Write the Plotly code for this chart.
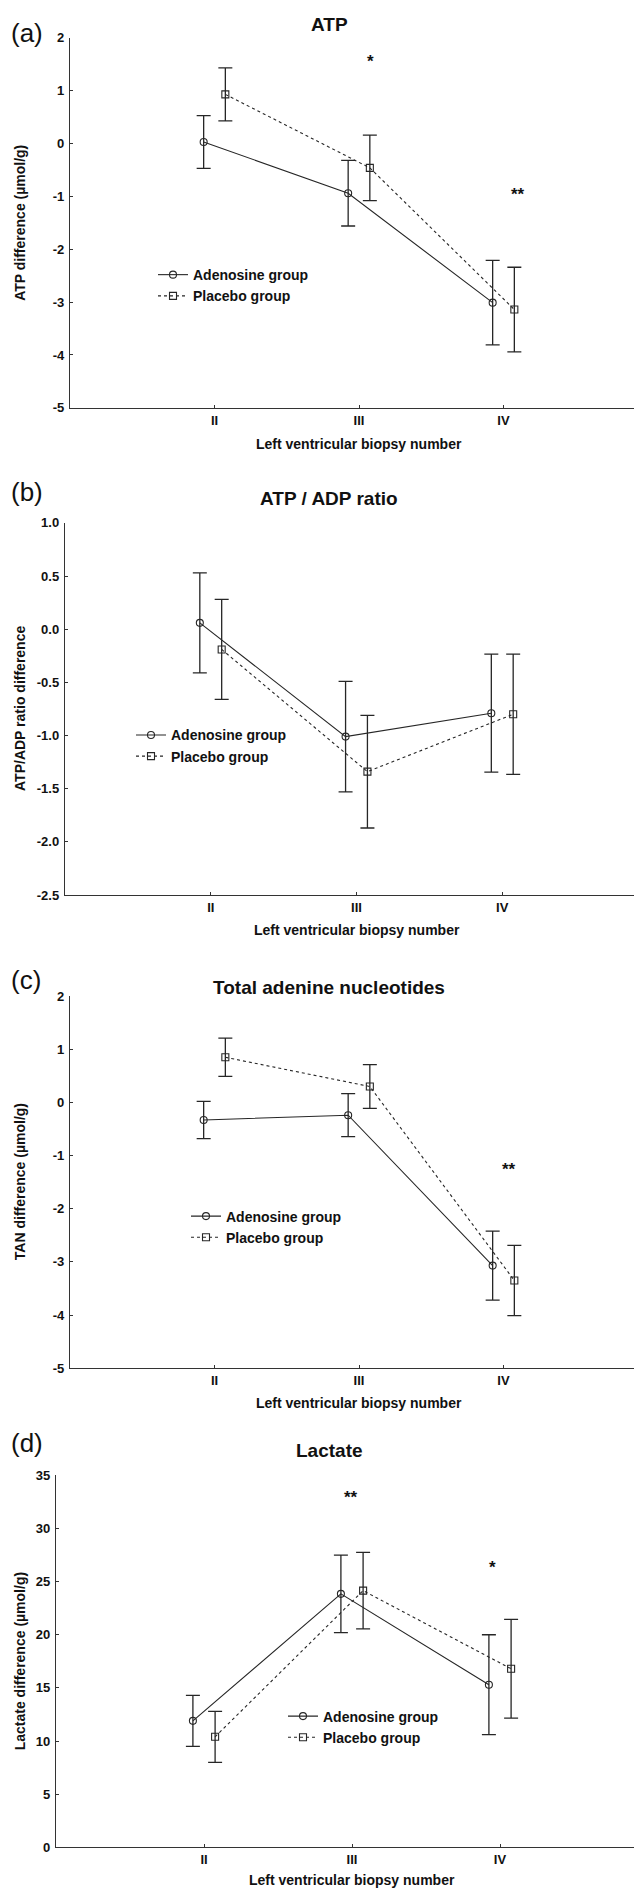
import plotly.graph_objects as go

W, H = 642, 1890

biopsy = ["II", "III", "IV"]
groups = ["Adenosine group", "Placebo group"]

atp_aden = [0.03, -0.94, -3.01]
atp_aden_err = [0.50, 0.62, 0.80]
atp_plac = [0.93, -0.46, -3.14]
atp_plac_err = [0.50, 0.62, 0.80]

ratio_aden = [0.06, -1.01, -0.79]
ratio_aden_err = [0.47, 0.52, 0.555]
ratio_plac = [-0.19, -1.34, -0.80]
ratio_plac_err = [0.47, 0.53, 0.565]

tan_aden = [-0.33, -0.24, -3.07]
tan_aden_err = [0.35, 0.405, 0.65]
tan_plac = [0.85, 0.30, -3.35]
tan_plac_err = [0.36, 0.41, 0.66]

lac_aden = [11.9, 23.85, 15.3]
lac_aden_err = [2.4, 3.65, 4.7]
lac_plac = [10.4, 24.15, 16.8]
lac_plac_err = [2.4, 3.6, 4.65]

# y tick values per panel
atp_ticks = [-5, -4, -3, -2, -1, 0, 1, 2]
ratio_ticks = [-2.5, -2.0, -1.5, -1.0, -0.5, 0.0, 0.5, 1.0]
tan_ticks = [-5, -4, -3, -2, -1, 0, 1, 2]
lac_ticks = [0, 5, 10, 15, 20, 25, 30, 35]

# significance marks: (panel, biopsy index, y value, text, x nudge)
stars = [
    (0, 1, 1.64, "*", 0.08),
    (0, 2, -0.87, "**", 0.10),
    (2, 2, -1.16, "**", 0.04),
    (3, 1, 33.35, "**", -0.01),
    (3, 2, 26.8, "*", -0.05),
]

FONT = "Liberation Sans, Arial, sans-serif"
INK = "#262626"

# panel layout in pixels
panels = [
    dict(label="(a)", title="ATP", ytitle="ATP difference (µmol/g)",
         x0=62, x1=640, top=23, bot=396, yt=atp_ticks, fmt="{:g}",
         aden=(atp_aden, atp_aden_err), plac=(atp_plac, atp_plac_err),
         title_y=10, label_y=18, xt_y=432, leg=(186, 263)),
    dict(label="(b)", title="ATP / ADP ratio", ytitle="ATP/ADP ratio difference",
         x0=57, x1=640, top=512, bot=887, yt=ratio_ticks, fmt="{:.1f}",
         aden=(ratio_aden, ratio_aden_err), plac=(ratio_plac, ratio_plac_err),
         title_y=487, label_y=481, xt_y=922, leg=(164, 727)),
    dict(label="(c)", title="Total adenine nucleotides", ytitle="TAN difference (µmol/g)",
         x0=62, x1=640, top=989, bot=1364, yt=tan_ticks, fmt="{:g}",
         aden=(tan_aden, tan_aden_err), plac=(tan_plac, tan_plac_err),
         title_y=980, label_y=973, xt_y=1399, leg=(219, 1212)),
    dict(label="(d)", title="Lactate", ytitle="Lactate difference (µmol/g)",
         x0=48, x1=640, top=1472, bot=1847, yt=lac_ticks, fmt="{:g}",
         aden=(lac_aden, lac_aden_err), plac=(lac_plac, lac_plac_err),
         title_y=1447, label_y=1439, xt_y=1880, leg=(316, 1716)),
]

def px(x):
    return x / W

def py(y):
    return 1 - y / H

fig = go.Figure()
annotations = []
OFF = 0.075

for i, p in enumerate(panels):
    n = "" if i == 0 else str(i + 1)
    xa, ya = "x" + n, "y" + n
    leg = "legend" + n
    pos = [k + 2 for k in range(len(biopsy))]

    for gname, (vals, errs), off, sym, dash in [
        (groups[0], p["aden"], -OFF, "circle-open", "solid"),
        (groups[1], p["plac"], OFF, "square-open", "dot"),
    ]:
        fig.add_trace(go.Scatter(
            x=[v + off for v in pos], y=vals, name=gname,
            mode="lines+markers", xaxis=xa, yaxis=ya, legend=leg,
            line=dict(color=INK, width=1.1, dash=dash),
            marker=dict(symbol=sym, size=7, color=INK, line=dict(width=1.1, color=INK)),
            error_y=dict(type="data", array=errs, visible=True, color=INK,
                         thickness=1.3, width=7),
        ))

    axis_common = dict(showgrid=False, zeroline=False, showline=True,
                       linecolor="#333333", linewidth=1.4, ticks="inside",
                       ticklen=3, tickcolor="#333333",
                       tickfont=dict(family=FONT, size=13, color="#111111", weight="bold"))
    fig.layout["xaxis" + n] = dict(
        domain=[px(p["x0"]), px(p["x1"])], anchor=ya, range=[1, 5],
        tickmode="array", tickvals=pos, ticktext=biopsy, **axis_common)
    # plain hyphen for negatives, like the original figure
    fig.layout["yaxis" + n] = dict(
        domain=[py(p["bot"]), py(p["top"])], anchor=xa,
        range=[p["yt"][0], p["yt"][-1]], tickmode="array", tickvals=p["yt"],
        ticktext=[p["fmt"].format(v) for v in p["yt"]],
        ticklabelstandoff=2, **axis_common)

    fig.layout[leg] = dict(
        x=px(p["leg"][0] - 41), y=py(p["leg"][1] - 17), xanchor="left", yanchor="top",
        bgcolor="rgba(0,0,0,0)", borderwidth=0, tracegroupgap=0,
        font=dict(family=FONT, size=14, color="#111111", weight="bold"),
    )

    annotations += [
        dict(text="<b>%s</b>" % p["title"], x=0.5, y=py(p["title_y"]), xref="paper",
             yref="paper", showarrow=False, yanchor="middle",
             font=dict(family=FONT, size=19, color="#111111")),
        dict(text=p["label"], x=px(1), y=py(p["label_y"]), xref="paper", yref="paper",
             showarrow=False, xanchor="left", yanchor="middle",
             font=dict(family=FONT, size=26, color="#111111")),
        dict(text="<b>Left ventricular biopsy number</b>", x=px((p["x0"] + p["x1"]) / 2),
             y=py(p["xt_y"]), xref="paper", yref="paper", showarrow=False,
             yanchor="middle", font=dict(family=FONT, size=14, color="#111111")),
        dict(text="<b>%s</b>" % p["ytitle"], x=px(12), y=py((p["top"] + p["bot"]) / 2),
             xref="paper", yref="paper", showarrow=False, textangle=-90,
             xanchor="center", yanchor="middle",
             font=dict(family=FONT, size=14, color="#111111")),
    ]

for pi, bi, yv, txt, dx in stars:
    n = "" if pi == 0 else str(pi + 1)
    annotations.append(dict(text="<b>%s</b>" % txt, x=bi + 2 + dx, y=yv, xref="x" + n,
                            yref="y" + n, showarrow=False, yshift=-5,
                            font=dict(family=FONT, size=17, color="#111111")))

fig.update_layout(
    width=W, height=H, margin=dict(l=0, r=0, t=0, b=0),
    paper_bgcolor="white", plot_bgcolor="white",
    annotations=annotations, showlegend=True,
)

fig.write_html("out.html")
